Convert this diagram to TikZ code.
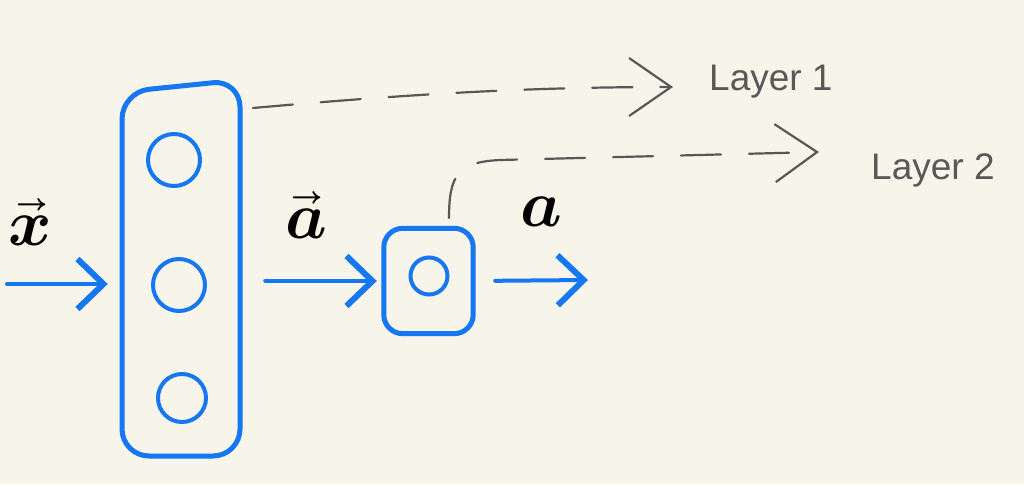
\documentclass[tikz,border=0pt]{standalone}
\usepackage{fontspec}
\usepackage{unicode-math}
\newfontfamily\labelfont{Liberation Sans}
\usetikzlibrary{arrows.meta}
\definecolor{bg}{RGB}{247,245,233}
\definecolor{pen}{RGB}{22,119,242}
\definecolor{ink}{RGB}{88,88,88}
\begin{document}
\begin{tikzpicture}[x=1pt,y=-1pt,
  outline/.style={draw=pen, line width=5pt, rounded corners=27pt},
  box/.style={inner sep=0pt},
  neuron/.style={circle, draw=pen, line width=4pt, inner sep=0pt},
  flow/.style={draw=pen, line width=4pt, line cap=round,
    -{Straight Barb[length=26pt,width=50pt,line width=6pt]}},
  lead/.style={draw=ink, line width=2.2pt, dash pattern=on 40pt off 28pt, line cap=round,
    -{Straight Barb[length=42pt,width=58pt,line width=2.2pt]}},
  tag/.style={text=ink, font=\labelfont\fontsize{37}{37}\selectfont, anchor=west, inner sep=0pt},
  hand/.style={text=black, font=\fontsize{66}{66}\selectfont, inner sep=0pt}
]
\path[use as bounding box, fill=bg] (0,0) rectangle (1024,484);

% boxes (hand-drawn outlines with nodes for anchors)
\node[box, minimum width=120pt, minimum height=372pt] (L1) at (181,269) {};
\draw[outline] (122,270) -- (122,92) -- (240,80) -- (240,456) -- (122,456) -- cycle;
\node[box, minimum width=89pt, minimum height=105pt] (L2) at (428.5,281) {};
\draw[outline, rounded corners=19pt] (L2.north west) rectangle (L2.south east);

% neurons
\node[neuron, minimum size=52pt] (n1) at (174,160) {};
\node[neuron, minimum size=52pt] (n2) at (179,285) {};
\node[neuron, minimum size=48pt] (n3) at (182,398) {};
\node[neuron, minimum size=37pt] (m1) at (429,276) {};

% hand labels
\node[hand] (vx) at (30,222) {$\vec{\symbfit{x}}$};
\node[hand] (va) at (306,215) {$\vec{\symbfit{a}}$};
\node[hand] (sa) at (541,212) {$\symbfit{a}$};

% layer tags
\node[tag] (T1) at (709,82) {Layer 1};
\node[tag] (T2) at (871,170) {Layer 2};

% flow arrows
\coordinate (xin) at (7,284);
\coordinate (aout) at (588,280);
\draw[flow, shorten >=13pt] (xin) -- (L1.west |- xin);
\draw[flow, shorten <=24pt, shorten >=7pt] (L1.east |- L2.west) -- (L2.west);
\draw[flow, shorten <=22pt] (L2.east) -- (aout);

% dashed leaders
\coordinate (s1) at (253,108);
\coordinate (e1) at ([shift={(-36,5)}]T1.west);
\draw[lead] (s1) .. controls (400,95) and (520,87) .. (e1);
\coordinate (s2) at (449,218);
\coordinate (e2) at ([shift={(-52,-18)}]T2.west);
\draw[lead] (s2) .. controls (449,175) and (458,162) .. (500,160) -- (e2);
\end{tikzpicture}
\end{document}
